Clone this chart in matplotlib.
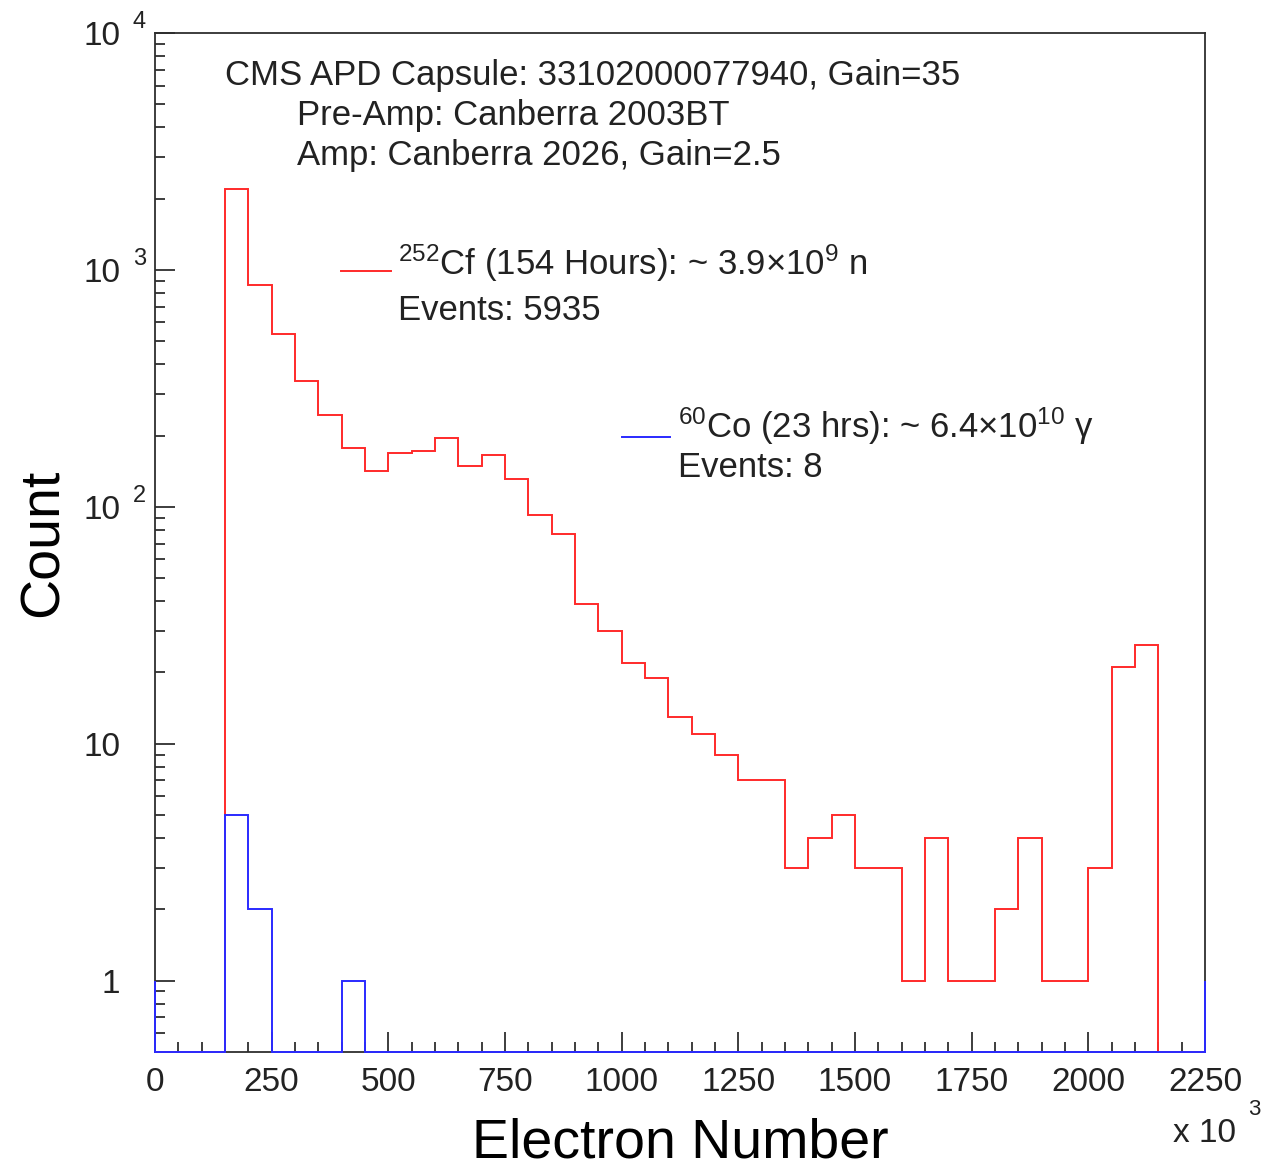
import matplotlib.pyplot as plt
import numpy as np
from matplotlib.ticker import MultipleLocator, LogLocator, FuncFormatter, NullFormatter

plt.rcParams["font.family"] = ["Liberation Sans", "DejaVu Sans"]
plt.rcParams["mathtext.fontset"] = "custom"
plt.rcParams["mathtext.rm"] = "Liberation Sans"
plt.rcParams["mathtext.it"] = "Liberation Sans:italic"
plt.rcParams["mathtext.default"] = "regular"

# bins of 50 (x 10^3 electrons), 0 .. 2250
bin_edges = np.arange(0, 2251, 50)
cf_counts = [0, 0, 0, 2200, 865, 537, 340, 244, 177, 142,
             169, 172, 195, 149, 166, 131, 92, 77, 39, 30,
             22, 19, 13, 11, 9, 7, 7, 3, 4, 5,
             3, 3, 1, 4, 1, 1, 2, 4, 1, 1,
             3, 21, 26, 0, 0]
co_counts = [0, 0, 0, 5, 2, 0, 0, 0, 1, 0,
             0, 0, 0, 0, 0, 0, 0, 0, 0, 0,
             0, 0, 0, 0, 0, 0, 0, 0, 0, 0,
             0, 0, 0, 0, 0, 0, 0, 0, 0, 0,
             0, 0, 0, 0, 0]

ymin, ymax = 0.5, 1e4
red = "#ff2a2a"
blue = "#2a2aff"
frame = "#2e2e2e"

fig = plt.figure(figsize=(12.62, 11.62), dpi=100)
ax = fig.add_axes([0.1228, 0.0947, 0.8320, 0.8769])

# empty bins are drawn on the frame bottom like ROOT does
cf_plot = np.maximum(cf_counts, ymin)
co_plot = np.maximum(co_counts, ymin)
ax.stairs(cf_plot, bin_edges, baseline=None, color=red, lw=1.4, zorder=3, clip_on=False)
# baseline=1 gives the short blue edges at both ends of the range
ax.stairs(co_plot, bin_edges, baseline=1, color=blue, lw=1.4, zorder=3, clip_on=False)

ax.set_yscale("log")
ax.set_xlim(0, 2250)
ax.set_ylim(ymin, ymax)

for s in ax.spines.values():
    s.set_color(frame)
    s.set_linewidth(1.3)

ax.xaxis.set_major_locator(MultipleLocator(250))
ax.xaxis.set_minor_locator(MultipleLocator(50))
ax.yaxis.set_major_locator(LogLocator(base=10, numticks=10))
ax.yaxis.set_minor_locator(LogLocator(base=10, subs=np.arange(2, 10), numticks=20))
ax.yaxis.set_major_formatter(FuncFormatter(lambda v, p: "1" if v < 5 else "10"))
ax.yaxis.set_minor_formatter(NullFormatter())

ax.tick_params(which="both", direction="in", top=False, right=False,
               width=1.3, color=frame, labelcolor="#222222", labelsize=24)
ax.tick_params(which="major", length=14.5)
ax.tick_params(which="minor", length=7.5)
ax.tick_params(axis="x", which="major", pad=10.5)
ax.tick_params(axis="y", which="major", pad=25)

# exponents of the y labels, ROOT style
for k in [2, 3, 4]:
    ax.annotate(str(k), xy=(0, 10.0 ** k), xycoords=("axes fraction", "data"),
                xytext=(-16, 3.6), textcoords="offset points",
                fontsize=17, color="#222222", ha="left", va="baseline")

ax.text(0.9695, -0.0883, "x 10", transform=ax.transAxes, fontsize=24,
        color="#222222", va="baseline")
ax.text(1.041, -0.0618, "3", transform=ax.transAxes, fontsize=16,
        color="#222222", va="baseline")

ax.set_xlabel("Electron Number", fontsize=40)
ax.xaxis.set_label_coords(0.5, -0.104)
ax.xaxis.label.set_verticalalignment("baseline")
ax.set_ylabel("Count", fontsize=40)
ax.yaxis.set_label_coords(-0.0924, 0.5)
ax.yaxis.label.set_verticalalignment("baseline")

txt = dict(transform=ax.transAxes, fontsize=25, color="#222222", va="baseline")
ax.text(0.0667, 0.9490, "CMS APD Capsule: 33102000077940, Gain=35", **txt)
ax.text(0.1352, 0.9097, "Pre-Amp: Canberra 2003BT", **txt)
ax.text(0.1352, 0.8705, "Amp: Canberra 2026, Gain=2.5", **txt)

ax.plot([0.1771, 0.2248], [0.7664, 0.7664], transform=ax.transAxes, color=red, lw=1.4)
ax.text(0.2314, 0.7625, r"$^{252}$Cf (154 Hours): ~ 3.9×10$^{9}$ n", **txt)
ax.text(0.2314, 0.7184, "Events: 5935", **txt)

ax.plot([0.4448, 0.4905], [0.6035, 0.6035], transform=ax.transAxes, color=blue, lw=1.4)
ax.text(0.4981, 0.6026, r"$^{60}$Co (23 hrs): ~ 6.4×10$^{10}$ γ", **txt)
ax.text(0.4981, 0.5643, "Events: 8", **txt)

fig.savefig("out.png", dpi=100)
